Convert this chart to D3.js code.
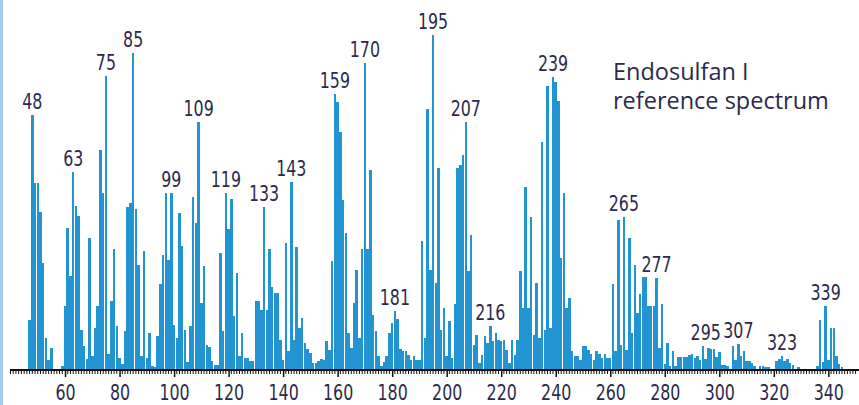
<!DOCTYPE html>
<html>
<head>
<meta charset="utf-8">
<script src="https://cdn.jsdelivr.net/npm/d3@7/dist/d3.min.js"></script>
<style>
  html, body { margin: 0; padding: 0; background: #ffffff; }
  svg { display: block; }
</style>
</head>
<body>
<script>
// Mass-to-charge values (m/z) of the spectrum lines
const mz = [
  47,48,49,50,51,52,53,54,55,59,60,61,62,63,64,65,66,67,68,69,70,71,72,73,74,75,76,77,78,79,
  80,81,82,83,84,85,86,87,88,89,90,91,92,93,94,95,96,97,98,99,100,101,102,103,104,105,106,107,108,109,
  110,111,112,113,114,115,116,117,118,119,120,121,122,123,124,125,126,127,128,129,130,131,132,133,134,135,136,137,138,139,
  140,141,142,143,144,145,146,147,148,149,150,151,152,153,154,155,156,157,158,159,160,161,162,163,164,165,166,167,168,169,
  170,171,172,173,174,175,176,177,178,179,180,181,182,183,184,185,186,187,188,189,190,191,192,193,194,195,196,197,198,199,
  200,201,202,203,204,205,206,207,208,209,210,211,212,213,214,215,216,217,218,219,220,221,222,223,224,225,226,227,228,229,
  230,231,232,233,234,235,236,237,238,239,240,241,242,243,244,245,246,247,248,249,250,251,252,253,254,255,256,257,258,259,
  260,261,262,263,264,265,266,267,268,269,270,271,272,273,274,275,276,277,278,279,280,281,282,283,284,285,286,287,288,289,
  290,291,292,293,294,295,296,297,298,299,300,301,302,303,305,306,307,308,309,310,311,312,313,315,316,317,318,
  321,322,323,324,325,326,327,329,336,337,338,339,340,341,342,343,344,345
];

// Relative abundance (%) of each line, base peak = 100
const abundance = [
  14.8,75.9,55.7,55.7,47,31.8,9.4,2.8,6.4,1,19,42.3,27.7,59.1,48.9,45.9,11.8,6.8,3,39.2,4,12.4,19,65.6,52.7,87.7,4.6,20.3,35.9,13,
  3.4,1.6,11.3,48.5,49.7,94.5,47.9,31,4,35.2,3.4,10.9,1,0.6,10,25.3,34.1,52.7,32.7,52.7,13.3,9.4,46.8,36.9,11.8,2,13,51.4,43.8,74.1,
  19.8,30.7,7.3,6.5,2.3,1.3,1.3,34.7,11.3,52.7,41.9,50.9,16,28.8,4,10.8,3.4,3.4,2.3,2.3,20.3,20.3,17.8,48.5,17.8,35.9,24.6,22.8,22.8,8.8,
  2.8,37.7,5.3,56.1,8.8,36.5,12.3,15.3,7.8,6,4.8,1.9,1.9,2.3,3,2.8,8.3,5.8,32.2,82.4,80,71.1,50.7,40.7,10.8,6.3,19.8,29.7,9.3,35.9,
  91.5,35.9,59.6,16.3,11.3,3.8,1,2,4,10.8,13.8,17.3,15,6,5.3,5.3,4.3,2.8,4,2.8,2.8,38.2,9.3,77.8,29.7,100,25.6,60.1,11.8,18.3,
  3.8,14.3,3.4,19.6,60.1,61.1,64.1,74.1,29.2,40.2,7.3,10.3,1.9,4.3,10,7.8,13,8.3,10.8,8.8,8.3,8.8,5.8,1.9,8.8,4.3,8.8,29.2,18.3,54.4,
  18.3,45.5,10.3,25.8,9.3,68.1,11.8,84.8,12.2,87.3,86,80.1,33.2,52.7,18.3,21.3,5.3,4,4,2.8,7,7,5.8,4.6,2.8,5.3,4.6,3.4,4.6,3.4,
  3.4,25.3,5.3,44.7,7.3,45.5,5.8,39.2,10.8,31,16.8,22.6,27.6,27.5,19,18.8,18.8,27.3,6.3,19.6,1.5,7.8,1,5.3,1,3.5,3.5,3.5,3.5,4.3,
  4.6,3.4,4,2.8,6.8,3,6.3,6,6,3.6,5,1.3,1.3,1,6.8,2.8,7.6,4,5.3,2.3,2.3,1.9,1,1,0.8,0.6,0.6,
  2.3,3,4,2.3,3,1.9,1.3,0.6,1,14.8,2,19,2.8,12.3,12.3,4,1.5,0.6
];

// Lines that carry an m/z annotation
const labelledPeaks = [48,63,75,85,99,109,119,133,143,159,170,181,195,207,216,239,265,277,295,307,323,339];

// Axis ticks
const majorTicks = d3.range(60, 341, 20);
const minorTicks = d3.range(40, 351, 1);

// Caption lines
const captionLines = ["Endosulfan I", "reference spectrum"];

const W = 859, H = 405;
const ink = "#2c2a4c";
const barColor = "#2394d2";
const numFont = "'DejaVu Sans Condensed', 'DejaVu Sans', sans-serif";
const squeeze = 0.8; // horizontal compression of the numerals

const svg = d3.select("body").append("svg")
  .attr("width", W).attr("height", H);

// light blue frame edge on the left
svg.append("rect")
  .attr("x", 0).attr("y", 0).attr("width", 3).attr("height", H)
  .attr("fill", "#a3cdf0");

const x = d3.scaleLinear().domain([40, 350]).range([10.5, 855.6]);
const y = d3.scaleLinear().domain([0, 100]).range([369, 35]);

const data = mz.map((m, i) => ({ m, v: abundance[i] }));
const byMass = new Map(data.map(d => [d.m, d.v]));

// spectrum lines
const barW = 2.5;
svg.append("g")
  .attr("shape-rendering", "crispEdges")
  .selectAll("rect")
  .data(data)
  .join("rect")
  .attr("x", d => x(d.m) - barW / 2)
  .attr("y", d => y(d.v))
  .attr("width", barW)
  .attr("height", d => y(0) - y(d.v))
  .attr("fill", barColor);

// axis: baseline, minor ticks and major ticks with labels
const axisG = svg.append("g");
axisG.append("line")
  .attr("x1", 10).attr("x2", W)
  .attr("y1", y(0) + 1).attr("y2", y(0) + 1)
  .attr("stroke", "#111").attr("stroke-width", 2);

axisG.selectAll("line.minor")
  .data(minorTicks.filter(t => !majorTicks.includes(t)))
  .join("line")
  .attr("class", "minor")
  .attr("x1", d => x(d)).attr("x2", d => x(d))
  .attr("y1", y(0) + 2).attr("y2", y(0) + 5)
  .attr("stroke", "#111").attr("stroke-width", 1);

const xAxis = d3.axisBottom(x)
  .tickValues(majorTicks)
  .tickSize(7)
  .tickSizeOuter(0)
  .tickPadding(8);

const major = svg.append("g")
  .attr("transform", `translate(0,${y(0) + 1})`)
  .call(xAxis);
major.select(".domain").remove();
major.selectAll(".tick line").attr("stroke", "#111").attr("stroke-width", 1.5);
major.selectAll(".tick text")
  .attr("fill", ink)
  .attr("font-family", numFont)
  .attr("font-size", 22)
  .attr("dy", null)
  .attr("y", null)
  .attr("transform", `translate(0,30) scale(${squeeze},1)`);

// peak annotations, placed above the tallest line in a ±2 window
function peakTop(m) {
  let top = 0;
  for (let k = m - 2; k <= m + 2; k++) top = Math.max(top, byMass.get(k) || 0);
  return top;
}
svg.append("g")
  .selectAll("text")
  .data(labelledPeaks)
  .join("text")
  .attr("transform", m => `translate(${x(m)},${y(peakTop(m)) - 6}) scale(${squeeze},1)`)
  .attr("text-anchor", "middle")
  .attr("fill", ink)
  .attr("font-family", numFont)
  .attr("font-size", 22)
  .text(m => m);

// caption
svg.append("g")
  .selectAll("text")
  .data(captionLines)
  .join("text")
  .attr("x", 613)
  .attr("y", (d, i) => 80 + i * 29)
  .attr("fill", ink)
  .attr("font-family", "'Open Sans', 'Noto Sans', sans-serif")
  .attr("font-size", 23.5)
  .text(d => d);
</script>
</body>
</html>
